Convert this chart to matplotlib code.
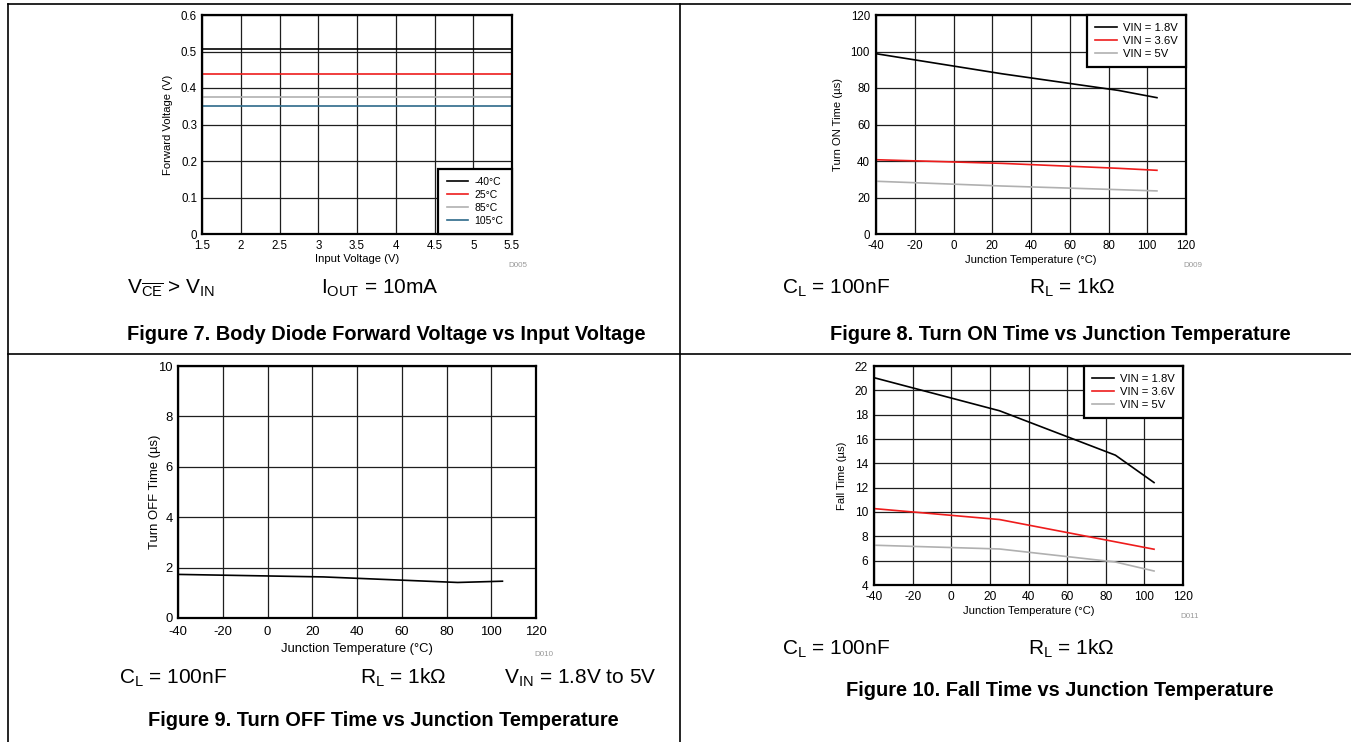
import matplotlib
matplotlib.use('Agg')
import matplotlib.pyplot as plt
from matplotlib.lines import Line2D
from matplotlib.ticker import FuncFormatter

W, H, DPI = 1351, 742, 100
FONT = 'Liberation Sans'
plt.rcParams['font.family'] = [FONT, 'DejaVu Sans']
plt.rcParams['mathtext.fontset'] = 'custom'
plt.rcParams['mathtext.rm'] = FONT
plt.rcParams['mathtext.it'] = FONT + ':italic'
plt.rcParams['mathtext.bf'] = FONT + ':bold'

# ---------------- data ----------------
# Figure 7: body diode forward voltage vs input voltage
vin = [1.5, 2.0, 2.5, 3.0, 3.5, 4.0, 4.5, 5.0, 5.5]
vf_m40 = [0.506, 0.506, 0.506, 0.506, 0.506, 0.506, 0.506, 0.506, 0.506]
vf_25 = [0.437, 0.437, 0.437, 0.437, 0.437, 0.437, 0.437, 0.437, 0.437]
vf_85 = [0.374, 0.374, 0.374, 0.374, 0.374, 0.374, 0.374, 0.374, 0.374]
vf_105 = [0.350, 0.350, 0.350, 0.350, 0.350, 0.350, 0.350, 0.350, 0.350]
fig7_labels = ['-40°C', '25°C', '85°C', '105°C']

# Junction temperature points
temp = [-40, 25, 85, 105]
# Figure 8: turn ON time (us)
ton_18 = [98.8, 87.8, 78.7, 74.7]
ton_36 = [40.7, 38.7, 36.0, 34.9]
ton_5 = [28.9, 26.3, 24.3, 23.6]
# Figure 9: turn OFF time (us)
toff = [1.73, 1.63, 1.41, 1.46]
# Figure 10: fall time (us)
tf_18 = [21.04, 18.32, 14.67, 12.42]
tf_36 = [10.28, 9.38, 7.55, 6.94]
tf_5 = [7.27, 6.96, 5.89, 5.15]
vin_labels = ['VIN = 1.8V', 'VIN = 3.6V', 'VIN = 5V']

vin_ticks = [1.5, 2, 2.5, 3, 3.5, 4, 4.5, 5, 5.5]
vf_ticks = [0, 0.1, 0.2, 0.3, 0.4, 0.5, 0.6]
temp_ticks = [-40, -20, 0, 20, 40, 60, 80, 100, 120]
ton_ticks = [0, 20, 40, 60, 80, 100, 120]
toff_ticks = [0, 2, 4, 6, 8, 10]
tf_ticks = [4, 6, 8, 10, 12, 14, 16, 18, 20, 22]

BLACK = '#000000'
RED = '#ee1c1c'
GRAY = '#b0b0b0'
TEAL = '#2d6a8a'

fig = plt.figure(figsize=(W / DPI, H / DPI), dpi=DPI)
fig.patch.set_facecolor('white')


def fx(x):
    return x / W


def fy(y):
    return 1 - y / H


def px_axes(l, t, r, b):
    return fig.add_axes([l / W, 1 - b / H, (r - l) / W, (b - t) / H])


fmt = FuncFormatter(lambda v, p: f'{v:g}')


def style(ax, xticks, yticks, fs, xpad, ypad):
    ax.set_xlim(xticks[0], xticks[-1])
    ax.set_ylim(yticks[0], yticks[-1])
    ax.set_xticks(xticks)
    ax.set_yticks(yticks)
    ax.xaxis.set_major_formatter(fmt)
    ax.yaxis.set_major_formatter(fmt)
    ax.grid(True, color='#1e1e1e', lw=0.9)
    ax.set_axisbelow(True)
    for s in ax.spines.values():
        s.set_linewidth(1.6)
        s.set_color('black')
    ax.tick_params(axis='x', length=0, labelsize=fs, pad=xpad)
    ax.tick_params(axis='y', length=0, labelsize=fs, pad=ypad)


def legend(ax, loc, fs, hl, bp):
    leg = ax.legend(loc=loc, fontsize=fs, frameon=True, fancybox=False,
                    edgecolor='black', framealpha=1, borderaxespad=0,
                    handlelength=hl, handletextpad=0.6, labelspacing=0.28,
                    borderpad=bp)
    leg.get_frame().set_linewidth(1.6)
    return leg


LW = 1.2

# ---------- Figure 7 ----------
ax1 = px_axes(202, 15, 512, 234)
for vals, c, lab in zip([vf_m40, vf_25, vf_85, vf_105], [BLACK, RED, GRAY, TEAL], fig7_labels):
    ax1.plot(vin, vals, color=c, lw=LW, label=lab)
style(ax1, vin_ticks, vf_ticks, 8.3, 4.3, 3.6)
legend(ax1, 'lower right', 7.5, 2.1, 0.8)
fig.text(fx(168), fy(124.5), 'Forward Voltage (V)', rotation=90, ha='center', va='center', fontsize=8.1)
fig.text(fx(357), fy(259), 'Input Voltage (V)', ha='center', va='center', fontsize=8.1)
fig.text(fx(518), fy(266), 'D005', ha='center', va='center', fontsize=5.8, color='#999999')

# ---------- Figure 8 ----------
ax2 = px_axes(876, 15, 1186, 234)
for vals, c, lab in zip([ton_18, ton_36, ton_5], [BLACK, RED, GRAY], vin_labels):
    ax2.plot(temp, vals, color=c, lw=LW, label=lab)
style(ax2, temp_ticks, ton_ticks, 8.3, 4.3, 4.3)
legend(ax2, 'upper right', 8.1, 1.95, 0.7)
fig.text(fx(838), fy(124.5), 'Turn ON Time (µs)', rotation=90, ha='center', va='center', fontsize=8.1)
fig.text(fx(1031), fy(260), 'Junction Temperature (°C)', ha='center', va='center', fontsize=8.1)
fig.text(fx(1193), fy(266), 'D009', ha='center', va='center', fontsize=5.8, color='#999999')

# ---------- Figure 9 ----------
ax3 = px_axes(178, 366, 536, 618)
ax3.plot(temp, toff, color=BLACK, lw=LW)
style(ax3, temp_ticks, toff_ticks, 9.4, 6.0, 3.6)
fig.text(fx(155), fy(492), 'Turn OFF Time (µs)', rotation=90, ha='center', va='center', fontsize=9.4)
fig.text(fx(357), fy(649), 'Junction Temperature (°C)', ha='center', va='center', fontsize=9.4)
fig.text(fx(544), fy(655), 'D010', ha='center', va='center', fontsize=5.8, color='#999999')

# ---------- Figure 10 ----------
ax4 = px_axes(874, 366, 1183, 585)
for vals, c, lab in zip([tf_18, tf_36, tf_5], [BLACK, RED, GRAY], vin_labels):
    ax4.plot(temp, vals, color=c, lw=LW, label=lab)
style(ax4, temp_ticks, tf_ticks, 8.6, 4.3, 4.3)
legend(ax4, 'upper right', 8.1, 1.95, 0.7)
fig.text(fx(842), fy(475.5), 'Fall Time (µs)', rotation=90, ha='center', va='center', fontsize=8.1)
fig.text(fx(1028.5), fy(611), 'Junction Temperature (°C)', ha='center', va='center', fontsize=8.1)
fig.text(fx(1190), fy(616), 'D011', ha='center', va='center', fontsize=5.8, color='#999999')

# ---------- condition texts and captions ----------
CFS = 15
fig.text(fx(127), fy(288), r'V$_{\overline{\mathregular{CE}}}$ > V$_\mathregular{IN}$', ha='left', va='center', fontsize=CFS)
fig.text(fx(321), fy(288), r'I$_\mathregular{OUT}$ = 10mA', ha='left', va='center', fontsize=CFS)
fig.text(fx(782), fy(288), r'C$_\mathregular{L}$ = 100nF', ha='left', va='center', fontsize=CFS)
fig.text(fx(1029), fy(288), r'R$_\mathregular{L}$ = 1kΩ', ha='left', va='center', fontsize=CFS)
fig.text(fx(119), fy(678), r'C$_\mathregular{L}$ = 100nF', ha='left', va='center', fontsize=CFS)
fig.text(fx(360), fy(678), r'R$_\mathregular{L}$ = 1kΩ', ha='left', va='center', fontsize=CFS)
fig.text(fx(504), fy(678), r'V$_\mathregular{IN}$ = 1.8V to 5V', ha='left', va='center', fontsize=CFS)
fig.text(fx(782), fy(649), r'C$_\mathregular{L}$ = 100nF', ha='left', va='center', fontsize=CFS)
fig.text(fx(1028), fy(649), r'R$_\mathregular{L}$ = 1kΩ', ha='left', va='center', fontsize=CFS)

TFS = 14.4
fig.text(fx(386), fy(334), 'Figure 7. Body Diode Forward Voltage vs Input Voltage', ha='center', va='center', fontsize=TFS, fontweight='bold')
fig.text(fx(1060), fy(334), 'Figure 8. Turn ON Time vs Junction Temperature', ha='center', va='center', fontsize=TFS, fontweight='bold')
fig.text(fx(383), fy(721), 'Figure 9. Turn OFF Time vs Junction Temperature', ha='center', va='center', fontsize=TFS, fontweight='bold')
fig.text(fx(1060), fy(690), 'Figure 10. Fall Time vs Junction Temperature', ha='center', va='center', fontsize=TFS, fontweight='bold')

# ---------- table borders ----------
BLW = 1.2
for (x0, y0, x1, y1) in [(8, 4, W, 4), (8, 354, W, 354), (8, 4, 8, H), (680, 4, 680, H)]:
    fig.add_artist(Line2D([fx(x0), fx(x1)], [fy(y0), fy(y1)], transform=fig.transFigure,
                          color='black', lw=BLW))

fig.savefig('out.png', dpi=DPI, facecolor='white')
